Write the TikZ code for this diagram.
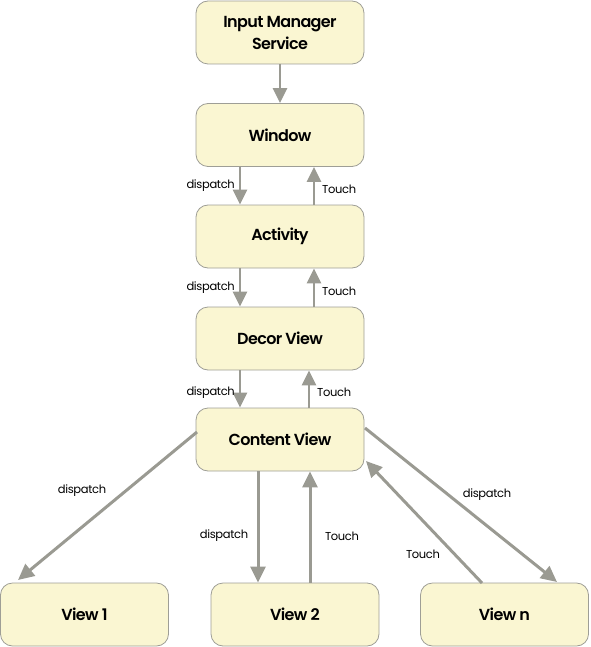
\documentclass[tikz,border=0pt]{standalone}
\usepackage{fontspec}
\setmainfont{Poppins}[BoldFont={Poppins SemiBold}]
\usetikzlibrary{arrows.meta}
\definecolor{boxfill}{HTML}{FAF6D2}
\definecolor{boxline}{HTML}{9E9E96}
\definecolor{arrowc}{HTML}{9A9A92}
\begin{document}
\begin{tikzpicture}[x=1pt,y=-1pt,
  box/.style={draw=boxline, line width=0.8pt, fill=boxfill, rounded corners=12pt,
    minimum width=168pt, minimum height=63pt, inner sep=0pt, align=center,
    font=\addfontfeatures{LetterSpace=-4}\fontsize{16}{22}\selectfont\bfseries, text=black},
  arr/.style={draw=arrowc, line width=2.4pt, -{Triangle[width=14pt,length=15pt]}},
  arrb/.style={draw=arrowc, line width=3pt, -{Triangle[width=15pt,length=16pt]}},
  lbl/.style={font=\addfontfeatures{LetterSpace=-3}\fontsize{11.5}{13}\selectfont, text=black, inner sep=1pt}]
\useasboundingbox (0,0) rectangle (590,647);
\node[box] (ims) at (280,32.5) {Input Manager\\Service};
\node[box] (win) at (280,135) {Window};
\node[box] (act) at (280,236.5) {Activity};
\node[box] (dec) at (280,338.5) {Decor View};
\node[box] (con) at (280,439.5) {Content View};
\node[box] (v1) at (84.5,614.5) {View 1};
\node[box] (v2) at (295,614.5) {View 2};
\node[box] (vn) at (504.5,614.5) {View n};
% top chain
\draw[arr] (ims.south) -- (win.north);
\draw[arr] ([xshift=-40pt]win.south) -- ([xshift=-40pt]act.north) node[lbl, pos=0.5, left=3pt] {dispatch};
\draw[arr] ([xshift=34pt]act.north) -- ([xshift=34pt]win.south) node[lbl, pos=0.4, right=6pt] {Touch};
\draw[arr] ([xshift=-40pt]act.south) -- ([xshift=-40pt]dec.north) node[lbl, pos=0.5, left=3pt] {dispatch};
\draw[arr] ([xshift=34pt]dec.north) -- ([xshift=34pt]act.south) node[lbl, pos=0.4, right=6pt] {Touch};
\draw[arr] ([xshift=-40pt]dec.south) -- ([xshift=-40pt]con.north) node[lbl, pos=0.6, left=3pt] {dispatch};
\draw[arr] ([xshift=29pt]con.north) -- ([xshift=29pt]dec.south) node[lbl, pos=0.4, right=6pt] {Touch};
% bottom fan
\coordinate (c1) at (197,432);
\coordinate (v1t) at (18,580);
\draw[arrb] (c1) -- (v1t);
\node[lbl] (l1) at (82,491) {dispatch};
\draw[arrb] ([xshift=-22pt]con.south) -- ([xshift=-37pt]v2.north);
\node[lbl] (l2) at (224,536) {dispatch};
\draw[arrb] ([xshift=15pt]v2.north) -- ([xshift=30pt]con.south);
\node[lbl] (l3) at (342,536) {Touch};
\coordinate (vnt) at (482,583);
\coordinate (cnt) at (366,461);
\draw[arrb] (vnt) -- (cnt);
\node[lbl] (l4) at (423,554) {Touch};
\coordinate (cnd) at (365,428);
\coordinate (vnd) at (557,582);
\draw[arrb] (cnd) -- (vnd);
\node[lbl] (l5) at (487,495) {dispatch};
\end{tikzpicture}
\end{document}
